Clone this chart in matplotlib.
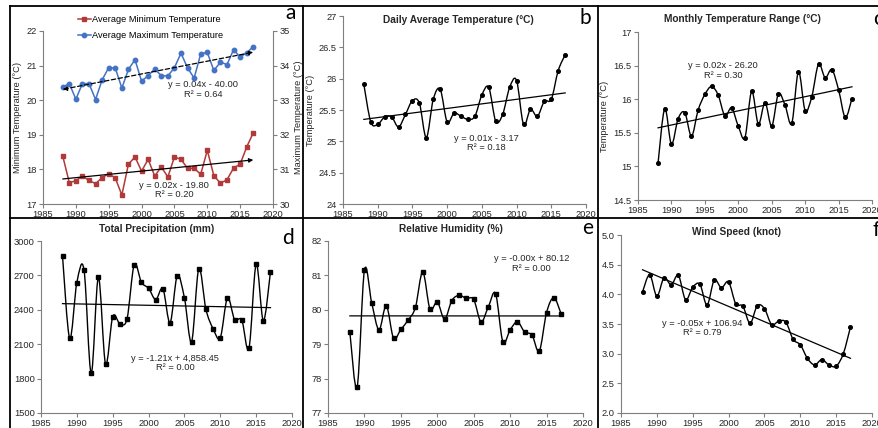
import numpy as np
import matplotlib
matplotlib.use("Agg")
import matplotlib.pyplot as plt
from matplotlib.path import Path
from matplotlib.patches import PathPatch
from matplotlib.lines import Line2D

plt.rcParams['font.family'] = ['Liberation Sans', 'DejaVu Sans']

years = list(range(1988, 2018))

tmin = [18.39, 17.62, 17.67, 17.81, 17.68, 17.59, 17.76, 17.88, 17.75, 17.26,
        18.15, 18.36, 17.95, 18.29, 17.81, 18.07, 17.78, 18.36, 18.29, 18.03,
        18.03, 17.86, 18.55, 17.82, 17.60, 17.70, 18.04, 18.15, 18.65, 19.06]
tmax = [33.38, 33.48, 33.03, 33.48, 33.48, 33.02, 33.59, 33.94, 33.93, 33.35,
        33.89, 34.17, 33.55, 33.71, 33.90, 33.71, 33.70, 33.94, 34.36, 33.93,
        33.64, 34.34, 34.38, 33.86, 34.10, 34.03, 34.46, 34.25, 34.37, 34.55]
tavg = [25.91, 25.31, 25.27, 25.39, 25.39, 25.23, 25.43, 25.65, 25.61, 25.06,
        25.67, 25.83, 25.31, 25.45, 25.40, 25.35, 25.40, 25.74, 25.86, 25.32,
        25.43, 25.86, 25.97, 25.27, 25.51, 25.40, 25.64, 25.67, 26.13, 26.38]
trange = [15.05, 15.86, 15.33, 15.71, 15.80, 15.45, 15.84, 16.07, 16.19, 16.06,
          15.75, 15.87, 15.60, 15.43, 16.12, 15.63, 15.95, 15.60, 16.08, 15.91,
          15.64, 16.41, 15.83, 16.04, 16.52, 16.32, 16.44, 16.14, 15.73, 16.01]
precip = [2869, 2151, 2637, 2747, 1846, 2683, 1927, 2340, 2279, 2323,
          2794, 2640, 2587, 2489, 2584, 2287, 2698, 2503, 2122, 2759,
          2404, 2235, 2157, 2503, 2314, 2311, 2064, 2797, 2305, 2733]
rh = [79.35, 77.75, 81.15, 80.20, 79.42, 80.12, 79.17, 79.43, 79.70, 80.07,
      81.10, 80.02, 80.23, 79.73, 80.27, 80.42, 80.33, 80.30, 79.65, 80.08,
      80.47, 79.07, 79.42, 79.65, 79.35, 79.27, 78.80, 79.92, 80.35, 79.88]
wind = [4.04, 4.33, 3.97, 4.28, 4.16, 4.32, 3.91, 4.12, 4.17, 3.82,
        4.24, 4.11, 4.21, 3.84, 3.80, 3.51, 3.81, 3.76, 3.49, 3.55,
        3.53, 3.24, 3.15, 2.92, 2.81, 2.90, 2.81, 2.79, 3.00, 3.45]

eq_a_max = ["y = 0.04x - 40.00", "R² = 0.64"]
eq_a_min = ["y = 0.02x - 19.80", "R² = 0.20"]
eq_b = ["y = 0.01x - 3.17", "R² = 0.18"]
eq_c = ["y = 0.02x - 26.20", "R² = 0.30"]
eq_d = ["y = -1.21x + 4,858.45", "R² = 0.00"]
eq_e = ["y = -0.00x + 80.12", "R² = 0.00"]
eq_f = ["y = -0.05x + 106.94", "R² = 0.79"]

W, H = 879, 428
fig = plt.figure(figsize=(W / 100, H / 100), dpi=100)

def px(x, y):
    return x / W, 1 - y / H

def rect(x0, x1, y0, y1):
    return [x0 / W, 1 - y1 / H, (x1 - x0) / W, (y1 - y0) / H]

SP = '#7f7f7f'
TXT = '#262626'
TFS = 6.7

def style(ax, xlim, ylim, yticks, fmt=None):
    ax.set_xlim(*xlim)
    ax.set_ylim(*ylim)
    ax.set_xticks(range(1985, 2021, 5))
    ax.set_yticks(yticks)
    if fmt:
        ax.set_yticklabels([fmt.format(v) for v in yticks])
    for s in ['top', 'right']:
        ax.spines[s].set_visible(False)
    for s in ['left', 'bottom']:
        ax.spines[s].set_color(SP)
        ax.spines[s].set_linewidth(0.8)
    ax.tick_params(axis='both', labelsize=TFS, colors=SP, labelcolor=TXT,
                   length=3, width=0.8, pad=1.5)
    ax.patch.set_alpha(0)

def smooth(ax, x, y, **kw):
    x = np.asarray(x, float); y = np.asarray(y, float)
    P = np.column_stack([x, y])
    n = len(P)
    verts = [P[0]]; codes = [Path.MOVETO]
    for i in range(n - 1):
        pm = P[i - 1] if i > 0 else P[i]
        pp = P[i + 2] if i + 2 < n else P[i + 1]
        c1 = P[i] + (P[i + 1] - pm) / 6
        c2 = P[i + 1] - (pp - P[i]) / 6
        verts += [c1, c2, P[i + 1]]
        codes += [Path.CURVE4] * 3
    ax.add_patch(PathPatch(Path(verts, codes), fill=False, **kw))

def trend(ax, x, y, **kw):
    c = np.polyfit(x, y, 1)
    xx = np.array([x[0], x[-1]])
    ax.plot(xx, np.polyval(c, xx), **kw)
    return c

def eqtext(ax, x, y, lines, dy):
    ax.text(x, y, lines[0], ha='center', va='center', fontsize=6.7, color=TXT)
    ax.text(x, y - dy, lines[1], ha='center', va='center', fontsize=6.7, color=TXT)

# ---- panel a
axa = fig.add_axes(rect(43, 273, 31, 204))
style(axa, (1985, 2020), (17, 22), range(17, 23))
axa.set_ylabel('Minimum Temperature (°C)', fontsize=6.7, color=TXT, labelpad=3)
axb2 = axa.twinx()
axb2.set_ylim(30, 35)
axb2.set_yticks(range(30, 36))
for s in ['top', 'left', 'bottom']:
    axb2.spines[s].set_visible(False)
axb2.spines['right'].set_color(SP)
axb2.spines['right'].set_linewidth(0.8)
axb2.tick_params(axis='y', labelsize=TFS, colors=SP, labelcolor=TXT, length=3, width=0.8, pad=1.5)
axb2.set_ylabel('Maximum Temperature (°C)', fontsize=6.7, color=TXT, labelpad=3, rotation=90)
RED = '#b03a3a'; BLUE = '#4472c4'
l1, = axa.plot(years, tmin, color=RED, marker='s', markersize=2.8, lw=1.1)
l2, = axb2.plot(years, tmax, color=BLUE, marker='o', markersize=3.2, lw=1.1)
c1 = np.polyfit(years, tmin, 1)
c2 = np.polyfit(years, tmax, 1)
axa.annotate('', xy=(years[-1], np.polyval(c1, years[-1])), xytext=(years[0], np.polyval(c1, years[0])),
             arrowprops=dict(arrowstyle='-|>', color='black', lw=0.9, mutation_scale=6, shrinkA=0, shrinkB=0))
axb2.annotate('', xy=(years[-1], np.polyval(c2, years[-1])), xytext=(years[0], np.polyval(c2, years[0])),
              arrowprops=dict(arrowstyle='<|-|>', color='black', lw=0.9, ls=(0, (3.5, 2)), mutation_scale=6,
                              shrinkA=0, shrinkB=0))
eqtext(axa, 2009.4, 20.45, eq_a_max, 0.29)
eqtext(axa, 2005.0, 17.54, eq_a_min, 0.27)
fig.legend([l1, l2], ['Average Minimum Temperature', 'Average Maximum Temperature'],
           loc='upper left', bbox_to_anchor=px(78, 15), frameon=False, fontsize=6.7,
           handlelength=1.35, handletextpad=0.15, labelspacing=0.8, borderaxespad=0, borderpad=0)

# ---- panel b
ax = fig.add_axes(rect(343, 586, 16, 204))
style(ax, (1985, 2020), (24, 27), [24, 24.5, 25, 25.5, 26, 26.5, 27], '{:g}')
ax.set_ylabel('Temperature (°C)', fontsize=6.7, color=TXT, labelpad=3)
smooth(ax, years, tavg, color='black', lw=1.0)
ax.plot(years, tavg, 'o', color='black', markersize=2.6)
trend(ax, years, tavg, color='black', lw=0.9)
eqtext(ax, 2005.7, 25.04, eq_b, 0.14)

# ---- panel c
ax = fig.add_axes(rect(638, 872, 32, 200))
style(ax, (1985, 2020), (14.5, 17), [14.5, 15, 15.5, 16, 16.5, 17], '{:g}')
ax.set_ylabel('Temperature (°C)', fontsize=6.7, color=TXT, labelpad=3)
smooth(ax, years, trange, color='black', lw=1.0)
ax.plot(years, trange, 'o', color='black', markersize=2.6)
trend(ax, years, trange, color='black', lw=0.9)
eqtext(ax, 1997.75, 16.50, eq_c, 0.14)

# ---- panel d
ax = fig.add_axes(rect(41, 292, 241, 413))
style(ax, (1985, 2020), (1500, 3000), range(1500, 3001, 300))
smooth(ax, years, precip, color='black', lw=1.0)
ax.plot(years, precip, 's', color='black', markersize=2.6)
trend(ax, years, precip, color='black', lw=0.9)
eqtext(ax, 2003.7, 1978, eq_d, 80)

# ---- panel e
ax = fig.add_axes(rect(328, 583, 241, 413))
style(ax, (1985, 2020), (77, 82), range(77, 83))
smooth(ax, years, rh, color='black', lw=1.0)
ax.plot(years, rh, 's', color='black', markersize=2.6)
trend(ax, years, rh, color='black', lw=0.9)
eqtext(ax, 2012.9, 81.49, eq_e, 0.28)

# ---- panel f
ax = fig.add_axes(rect(621, 872, 235, 413))
style(ax, (1985, 2020), (2.0, 5.0), [2.0, 2.5, 3.0, 3.5, 4.0, 4.5, 5.0], '{:.1f}')
smooth(ax, years, wind, color='black', lw=1.0)
ax.plot(years, wind, 'o', color='black', markersize=2.6)
trend(ax, years, wind, color='black', lw=0.9)
eqtext(ax, 1996.3, 3.51, eq_f, 0.15)

# titles
tkw = dict(ha='center', va='center', fontsize=7.3, fontweight='bold', color=TXT)
fig.text(*px(458, 20), 'Daily Average Temperature (°C)', **tkw)
fig.text(*px(742, 19), 'Monthly Temperature Range (°C)', **tkw)
fig.text(*px(157, 229), 'Total Precipitation (mm)', **tkw)
fig.text(*px(451, 229), 'Relative Humidity (%)', **tkw)
fig.text(*px(737, 232), 'Wind Speed (knot)', **tkw)

# panel letters
lkw = dict(ha='center', va='center', fontsize=15, color='black', family=['Lato', 'DejaVu Sans'])
for lab, (x, y) in zip('abcdef', [(291, 15), (585, 20), (878, 21), (288, 240), (588, 230), (876, 232)]):
    fig.text(*px(x, y - 2), lab, **lkw)

# panel borders
bkw = dict(color='black', lw=1.3, transform=fig.transFigure)
for (x0, y0, x1, y1) in [(10, 6, 879, 6), (10, 6, 10, 428), (303, 6, 303, 428),
                         (598, 6, 598, 428), (10, 218, 879, 218)]:
    fig.add_artist(Line2D([x0 / W, x1 / W], [1 - y0 / H, 1 - y1 / H], **bkw))

fig.savefig('out.png', dpi=100, facecolor='white')
